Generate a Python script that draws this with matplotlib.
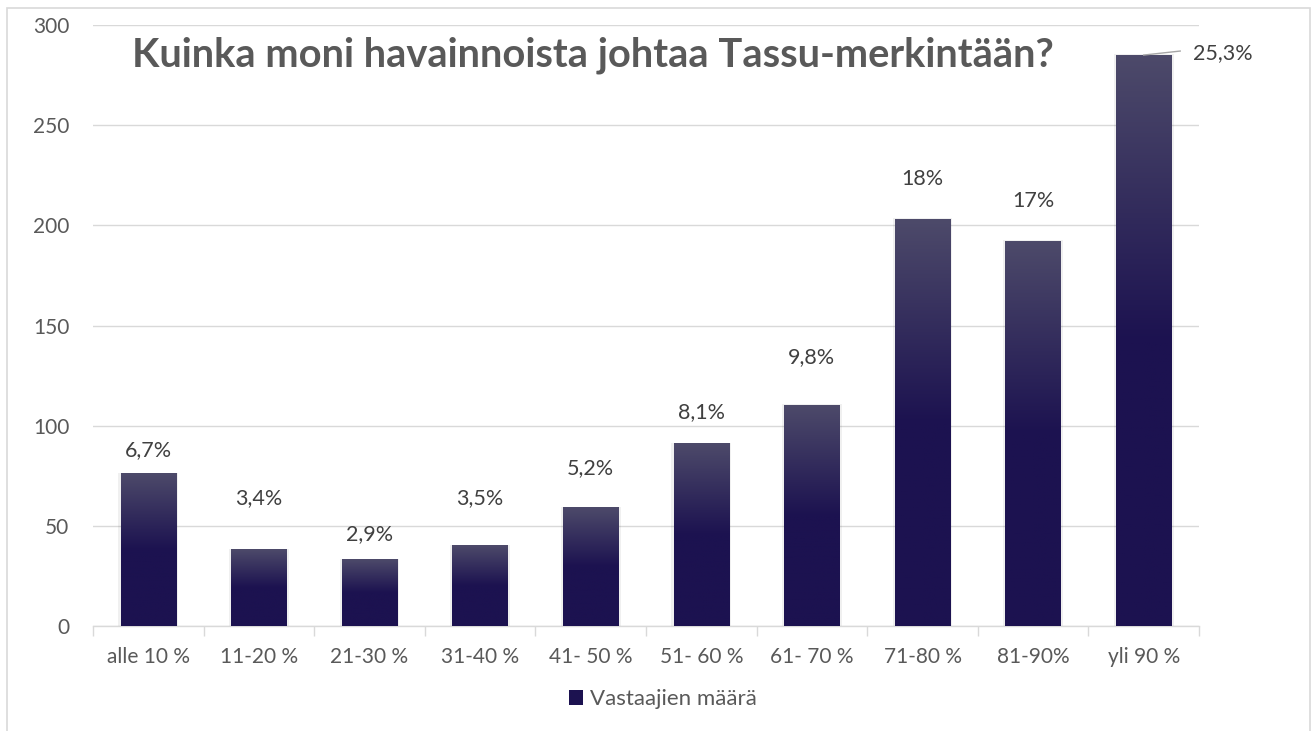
"""Bar chart: Kuinka moni havainnoista johtaa Tassu-merkintään?"""
import numpy as np
import matplotlib.pyplot as plt
import matplotlib as mpl
from matplotlib.colors import LinearSegmentedColormap
from matplotlib.patches import Rectangle

# Data
categories = ["alle 10 %", "11-20 %", "21-30 %", "31-40 %", "41- 50 %",
              "51- 60 %", "61- 70 %", "71-80 %", "81-90%", "yli 90 %"]
counts = [76, 38, 33, 40, 59, 91, 110, 203, 192, 285]
pct_labels = ["6,7%", "3,4%", "2,9%", "3,5%", "5,2%",
              "8,1%", "9,8%", "18%", "17%", "25,3%"]
yticks = [0, 50, 100, 150, 200, 250, 300]

# where the data labels sit (in y units), as placed in the original
label_y = [88, 64, 46, 64, 79, 107, 134, 223, 212, 286]

TITLE = "Kuinka moni havainnoista johtaa Tassu-merkintään?"
SERIES = "Vastaajien määrä"

TOP_COLOR = "#4d4a6a"
BOTTOM_COLOR = "#1c1250"
GRID_COLOR = "#d9d9d9"
TEXT_COLOR = "#595959"
FONT = ["Lato", "DejaVu Sans"]

mpl.rcParams.update({"font.family": FONT})

fig = plt.figure(figsize=(13.14, 7.31), dpi=100)
ax = fig.add_axes([0.0708, 0.1436, 0.8417, 0.8222])

# gradient: light at top, dark from mid-bar down
grad_cmap = LinearSegmentedColormap.from_list(
    "bar", [(0.0, BOTTOM_COLOR), (0.5, BOTTOM_COLOR), (1.0, TOP_COLOR)])
grad = np.linspace(0, 1, 256).reshape(-1, 1)

width = 0.5
x = np.arange(len(categories))
for xi, v in zip(x, counts):
    # soft shadow
    ax.add_patch(Rectangle((xi - width / 2 - 0.02, 0), width + 0.04, v + 0.6,
                           facecolor="#000000", alpha=0.06, lw=0, zorder=2))
    ax.imshow(grad, cmap=grad_cmap, aspect="auto", origin="lower",
              extent=(xi - width / 2, xi + width / 2, 0, v), zorder=3)

# legend proxy
ax.bar([0], [0], color=BOTTOM_COLOR, label=SERIES)

# data labels
for xi, ly, lab in zip(x[:-1], label_y[:-1], pct_labels[:-1]):
    ax.text(xi, ly, lab, ha="center", va="center", fontsize=15.5,
            color="#404040")
# last label moved to the side with a leader line
xl, vl = x[-1], counts[-1]
ax.plot([xl, xl + 0.33], [vl, label_y[-1] + 1], color="#a6a6a6", lw=1,
        zorder=4, clip_on=False)
ax.text(xl + 0.45, label_y[-1], pct_labels[-1], ha="left", va="center",
        fontsize=15.5, color="#404040", clip_on=False)

ax.set_xlim(-0.5, len(categories) - 0.5)
ax.set_ylim(0, 300)
ax.set_yticks(yticks)
ax.yaxis.grid(True, color=GRID_COLOR, lw=1)
ax.set_axisbelow(True)
ax.set_xticks(x)
ax.set_xticklabels(categories)
ax.set_xticks(np.arange(-0.5, len(categories)), minor=True)
ax.tick_params(axis="x", which="major", length=0, pad=15, labelsize=15,
               labelcolor=TEXT_COLOR)
ax.tick_params(axis="x", which="minor", length=7, width=1, color=GRID_COLOR)
ax.tick_params(axis="y", length=0, pad=17, labelsize=15, labelcolor=TEXT_COLOR)
for s in ["top", "right", "left"]:
    ax.spines[s].set_visible(False)
ax.spines["bottom"].set_color(GRID_COLOR)
ax.spines["bottom"].set_linewidth(1)

fig.text(0.451, 0.924, TITLE, ha="center", va="center", fontsize=28.7,
         fontweight="bold", color=TEXT_COLOR)

leg = ax.legend(loc="center", bbox_to_anchor=(0.515, -0.122), frameon=False,
                fontsize=16, handlelength=0.65, handleheight=0.65,
                handletextpad=0.3, labelcolor=TEXT_COLOR)

# outer chart border
fig.patches.append(Rectangle((7 / 1314, -0.01), 1303 / 1314, 1 - 8 / 731 + 0.01,
                             transform=fig.transFigure, fill=False,
                             edgecolor=GRID_COLOR, lw=1.2))

fig.savefig("out.png", dpi=100)
